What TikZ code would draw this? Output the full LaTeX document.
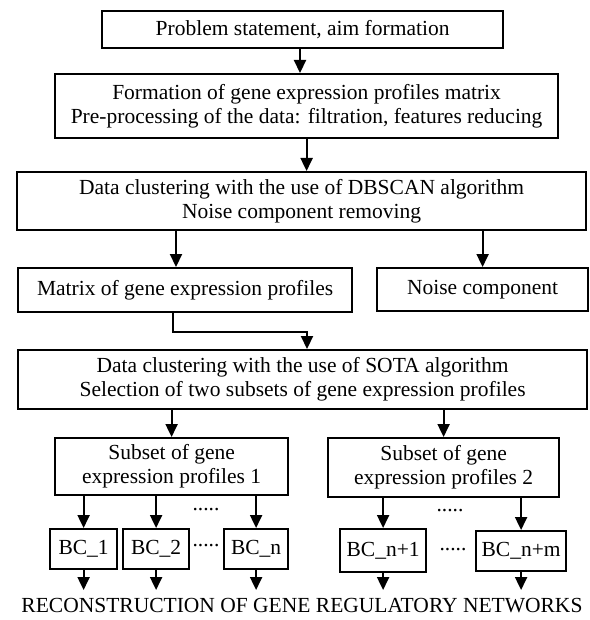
\documentclass[tikz,border=0pt]{standalone}
\usepackage{fontspec}
\setmainfont{Liberation Serif}
\usetikzlibrary{arrows.meta,calc}
\begin{document}
\begin{tikzpicture}[x=1pt,y=-1pt,
  font=\fontsize{21.5}{24}\selectfont,
  boxx/.style={draw,line width=2.2pt,rectangle,inner sep=0pt,anchor=north west,align=center},
  arr/.style={line width=2.2pt,-{Triangle[length=13pt,width=12pt]}},
  dots/.style={inner sep=0pt,font=\fontsize{21.5}{24}\selectfont}]
\useasboundingbox (0,0) rectangle (589,620);
\node[boxx,minimum width=401pt,minimum height=37pt] (b1) at (101,10) {Problem statement, aim formation};
\node[boxx,minimum width=503pt,minimum height=64pt] (b2) at (54,73) {Formation of gene expression profiles matrix\\Pre-processing of the data: filtration, features reducing};
\node[boxx,minimum width=569pt,minimum height=58pt] (b3) at (16,171) {Data clustering with the use of DBSCAN algorithm\\Noise component removing};
\node[boxx,minimum width=334pt,minimum height=44pt] (b4) at (17,267) {Matrix of gene expression profiles};
\node[boxx,minimum width=211pt,minimum height=43pt] (b5) at (376,267) {Noise component};
\node[boxx,minimum width=569pt,minimum height=59pt] (b6) at (17,349) {Data clustering with the use of SOTA algorithm\\Selection of two subsets of gene expression profiles};
\node[boxx,minimum width=233pt,minimum height=57pt] (b7) at (54,437) {Subset of gene\\expression profiles 1};
\node[boxx,minimum width=231pt,minimum height=59pt] (b8) at (327,437) {Subset of gene\\expression profiles 2};
\node[boxx,minimum width=67pt,minimum height=40pt] (c1) at (49,528) {BC\_1};
\node[boxx,minimum width=66pt,minimum height=40pt] (c2) at (122,528) {BC\_2};
\node[boxx,minimum width=64pt,minimum height=40pt] (c3) at (223,528) {BC\_n};
\node[boxx,minimum width=86pt,minimum height=43pt] (c4) at (339,528) {BC\_n+1};
\node[boxx,minimum width=90pt,minimum height=40pt] (c5) at (475,530) {BC\_n+m};
\node[dots] (d1) at (206,510) {.....};
\node[dots] (d2) at (206,546) {.....};
\node[dots] (d3) at (450,511) {.....};
\node[dots] (d4) at (453,550) {.....};
\node[inner sep=0pt] (t) at (302,606) {RECONSTRUCTION OF GENE REGULATORY NETWORKS};
\coordinate (xa) at (300,0);
\coordinate (xb) at (176,0);
\coordinate (xc) at (173,0);
\coordinate (xd) at (307,0);
\coordinate (yk) at (0,332);
\coordinate (ye) at (0,590);
\draw[arr] (b1.south -| xa) -- (b2.north -| xa);
\draw[arr] (b2.south) -- (b3.north -| b2.south);
\draw[arr] (b3.south -| xb) -- (b4.north -| xb);
\draw[arr] (b3.south -| b5.north) -- (b5.north);
\draw[arr] (b4.south -| xc) -- (yk -| xc) -- (yk -| xd) -- (b6.north -| xd);
\draw[arr] (b6.south -| b7.north) -- (b7.north);
\draw[arr] (b6.south -| b8.north) -- (b8.north);
\draw[arr] (b7.south -| c1.north) -- (c1.north);
\draw[arr] (b7.south -| c2.north) -- (c2.north);
\draw[arr] (b7.south -| c3.north) -- (c3.north);
\draw[arr] (b8.south -| c4.north) -- (c4.north);
\draw[arr] (b8.south -| c5.north) -- (c5.north);
\draw[arr] (c1.south) -- (ye -| c1.south);
\draw[arr] (c2.south) -- (ye -| c2.south);
\draw[arr] (c3.south) -- (ye -| c3.south);
\draw[arr] (c4.south) -- (ye -| c4.south);
\draw[arr] (c5.south) -- (ye -| c5.south);
\end{tikzpicture}
\end{document}
